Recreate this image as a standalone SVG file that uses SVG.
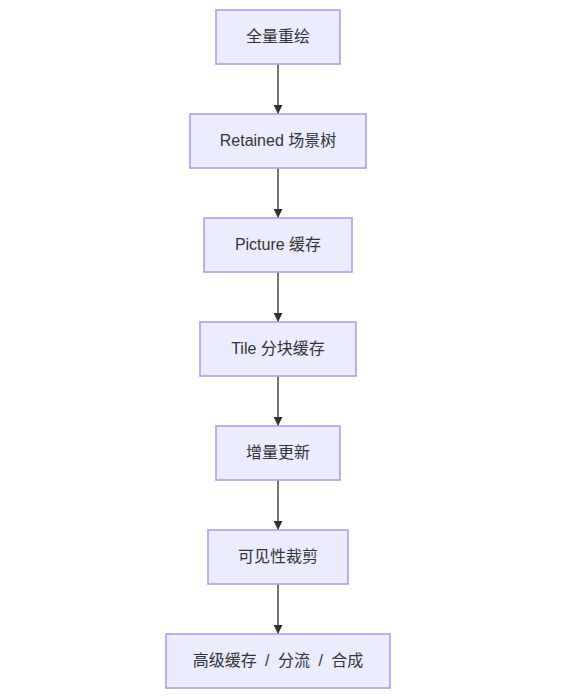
<svg xmlns="http://www.w3.org/2000/svg" width="566" height="696" viewBox="0 0 566 696">
<style>
.node rect{fill:#ECECFF;stroke:#B09AE8;stroke-width:1.6}
.node text{font-family:"Liberation Sans","Noto Sans CJK SC",sans-serif;font-size:16px;fill:#333;text-anchor:middle;dominant-baseline:central}
.edges path{stroke:#444;stroke-width:1.5;fill:none;marker-end:url(#arr)}
</style>
<defs>
<marker id="arr" viewBox="0 0 10 10" refX="10" refY="5" markerWidth="9" markerHeight="9" markerUnits="userSpaceOnUse" orient="auto">
<path d="M0,0 L10,5 L0,10 z" fill="#333"/>
</marker>
</defs>
<rect width="566" height="696" fill="#fff"/>
<g class="edges">
<path d="M278,64 V114"/>
<path d="M278,168 V218"/>
<path d="M278,272 V322"/>
<path d="M278,376 V426"/>
<path d="M278,480 V530"/>
<path d="M278,584 V634"/>
</g>
<g id="n1" class="node"><rect x="216" y="10" width="124" height="54"/><text x="278" y="36">全量重绘</text></g>
<g id="n2" class="node"><rect x="190" y="114" width="176" height="54"/><text x="278" y="140">Retained 场景树</text></g>
<g id="n3" class="node"><rect x="204" y="218" width="148" height="54"/><text x="278" y="244">Picture 缓存</text></g>
<g id="n4" class="node"><rect x="200" y="322" width="156" height="54"/><text x="278" y="348">Tile 分块缓存</text></g>
<g id="n5" class="node"><rect x="216" y="426" width="124" height="54"/><text x="278" y="452">增量更新</text></g>
<g id="n6" class="node"><rect x="208" y="530" width="140" height="54"/><text x="278" y="556">可见性裁剪</text></g>
<g id="n7" class="node"><rect x="166" y="634" width="224" height="54"/><text x="278" y="660">高级缓存<tspan dx="4"> / </tspan><tspan dx="4">分流</tspan><tspan dx="4"> / </tspan><tspan dx="4">合成</tspan></text></g>
</svg>
